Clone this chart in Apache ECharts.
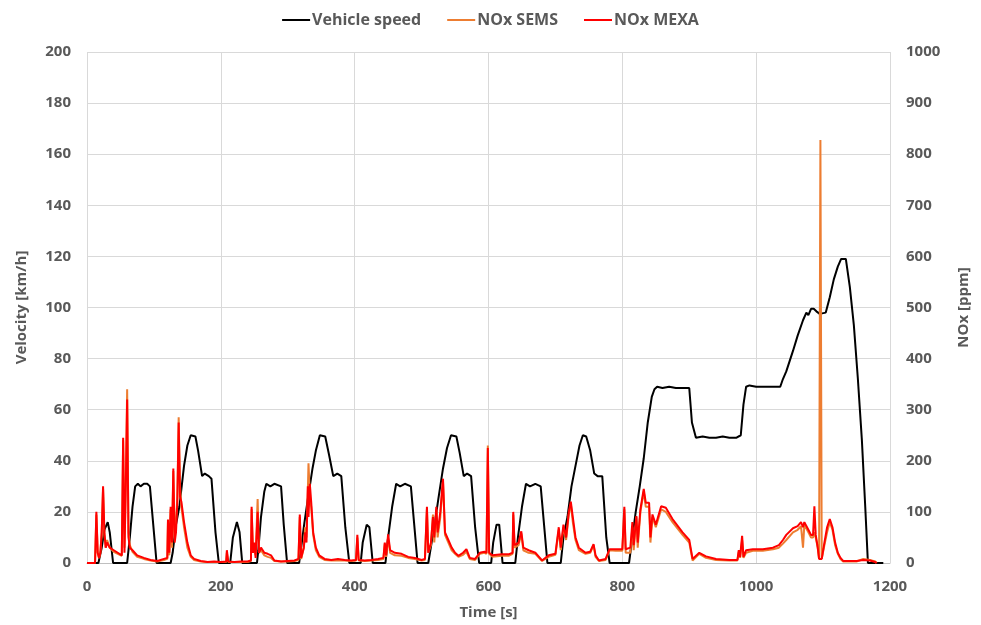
<!DOCTYPE html>
<html><head><meta charset="utf-8">
<script src="https://cdn.jsdelivr.net/npm/echarts@6/dist/echarts.min.js"></script>
<style>html,body{margin:0;padding:0;background:#fff}#c{width:981px;height:625px}</style>
</head><body><div id="c"></div>
<script>
// Vehicle speed [km/h]
const speedT = [0,17,22,26,31,34,39,60,64,68,72,76,80,85,90,94,100,104,125,128,133,138,145,150,155,162,166,172,176,182,186,192,197,214,218,224,228,232,254,256,260,265,268,274,280,290,294,299,317,321,325,330,337,342,348,356,362,368,374,380,386,392,409,412,418,422,427,446,450,456,462,468,475,484,489,494,510,515,520,525,532,538,544,552,557,563,568,574,580,586,604,607,612,616,621,640,644,650,656,662,670,678,683,688,708,712,718,724,730,736,741,746,752,758,763,770,776,781,810,815,820,826,832,838,844,848,852,860,870,880,890,900,904,910,920,930,940,950,960,970,977,981,985,990,1000,1010,1020,1030,1036,1040,1045,1050,1055,1062,1070,1075,1078,1082,1086,1090,1095,1104,1110,1116,1122,1127,1134,1140,1146,1152,1158,1163,1167,1190];
const speedV = [0,0,6,13,16,12,0,0,10,22,30,31,30,31,31,30,12,0,0,4,15,22,38,46,50,49.5,44,34,35,34,33,12,0,0,10,16,12,0,0,5,18,28,31,30,31,30,15,0,0,8,16,25,37,44,50,49.5,42,34,35,34,14,0,0,8,15,14,0,0,10,22,31,30,31,30,15,0,0,8,16,25,37,45,50,49.5,43,34,35,34,14,0,0,8,15,15,0,0,10,22,31,30,31,30,15,0,0,10,18,30,38,46,50,49.5,44,35,34,34,10,0,0,10,20,30,41,55,65,68,69,68.5,69,68.5,68.5,68.5,55,49,49.5,49,49,49.5,49,49,50,62,69,69.5,69,69,69,69,69,72,75,79,83,89,95,98,97,99.5,99.5,98.5,97.5,98,104,111,116,119,119,108,93,72,48,22,0,0];
// NOx [ppm]
const noxT = [0,12,14,16,18,20,22,24,26,28,30,34,40,46,52,54,56,58,60,62,64,68,75,85,95,105,115,120,121,123,125,127,129,131,133,135,137,139,141,145,150,155,160,170,180,190,200,208,209,211,220,230,240,245,246,248,250,252,255,257,260,265,270,275,280,290,300,310,316,318,320,324,326,328,330,331,333,335,338,342,347,355,365,375,385,395,402,404,406,415,425,435,443,445,447,450,453,460,470,480,490,500,505,508,510,514,517,519,522,524,528,532,535,540,545,550,555,562,567,572,580,587,594,597,599,601,606,620,630,636,637,639,645,649,652,660,670,680,690,700,705,708,712,716,720,723,726,730,735,745,752,757,760,765,775,781,790,800,803,805,812,815,817,821,823,827,832,835,840,842,845,850,858,865,875,890,900,905,915,925,940,960,972,974,976,979,981,985,995,1010,1025,1034,1040,1045,1055,1062,1067,1070,1072,1078,1082,1085,1087,1089,1092,1094,1096,1098,1102,1106,1110,1114,1118,1122,1126,1130,1150,1160,1170,1178,1180];
const noxMexa = [0,0,100,20,10,20,60,150,60,30,40,30,25,20,15,245,20,150,320,50,30,25,15,10,6,4,8,10,85,20,110,40,185,40,60,120,275,130,120,80,40,15,8,4,2,3,2,3,25,3,2,3,3,5,110,20,40,10,100,20,30,20,18,15,5,3,4,5,8,95,10,30,60,40,150,90,155,120,60,30,15,8,6,8,6,5,6,55,6,5,6,8,10,40,15,56,25,20,18,12,10,6,8,110,20,40,90,50,110,60,100,165,60,45,30,20,14,20,27,10,8,20,22,20,225,20,15,17,17,20,100,35,40,62,30,25,20,5,15,18,70,30,75,50,100,120,90,50,30,20,22,37,15,5,8,27,27,27,110,27,30,80,35,92,40,105,145,118,118,50,95,75,111,108,86,60,45,8,20,13,8,6,6,25,12,53,12,25,27,27,30,35,45,55,68,72,80,70,80,65,55,55,111,55,30,8,8,8,40,70,86,70,40,20,10,4,4,6,5,2,0];
const noxSems = [0,0,95,20,10,20,60,145,55,30,45,30,22,18,14,240,30,160,340,60,35,22,12,8,5,3,6,8,80,15,105,30,180,50,80,130,285,150,110,70,30,12,6,3,2,2,2,2,20,2,2,2,2,4,105,25,30,15,125,20,25,15,12,10,4,3,3,4,6,90,8,30,70,50,140,195,130,110,55,25,12,6,5,5,5,4,5,50,5,4,5,6,8,38,12,50,20,15,14,10,8,5,6,105,20,35,95,40,105,50,90,160,55,40,25,18,12,16,22,8,6,18,20,18,230,18,12,14,14,18,95,30,35,58,25,20,18,4,12,16,65,25,70,45,95,115,80,45,25,18,20,35,12,4,6,25,24,24,105,20,20,70,25,90,30,100,140,110,110,40,90,70,105,100,80,55,40,5,18,10,6,5,5,22,10,45,10,20,24,24,27,30,38,45,60,65,72,30,75,60,50,50,60,50,30,8,828,8,35,60,80,65,35,18,8,3,3,8,6,3,0];

const pair = (t, v) => t.map((x, i) => [x, v[i]]);
const txt = '#595959';
const font = '"Open Sans", "Liberation Sans", sans-serif';
const plain = v => String(v);

const chart = echarts.init(document.getElementById('c'), null, {renderer: 'canvas'});
chart.setOption({
  animation: false,
  backgroundColor: '#fff',
  textStyle: {fontFamily: font},
  legend: {
    top: 7, left: 'center', itemGap: 26, itemWidth: 28, itemHeight: 2,
    icon: 'rect',
    textStyle: {color: txt, fontSize: 16, fontWeight: 'bold', fontFamily: font, padding: [0, 0, 0, -3]},
    data: ['Vehicle speed', 'NOx SEMS', 'NOx MEXA']
  },
  grid: {left: 87, right: 91, top: 52, bottom: 61, containLabel: false},
  xAxis: {
    type: 'value', min: 0, max: 1200, interval: 200,
    name: 'Time [s]', nameLocation: 'middle', nameGap: 42,
    nameTextStyle: {color: txt, fontSize: 15, fontWeight: 'bold', fontFamily: font},
    axisLine: {show: true, lineStyle: {color: '#bfbfbf', width: 1}},
    axisTick: {show: false},
    axisLabel: {color: txt, fontSize: 15, fontWeight: 'bold', margin: 16, fontFamily: font, formatter: plain},
    splitLine: {show: true, lineStyle: {color: '#d9d9d9', width: 1}}
  },
  yAxis: [{
    type: 'value', min: 0, max: 200, interval: 20,
    name: 'Velocity [km/h]', nameLocation: 'middle', nameGap: 58, nameRotate: 90,
    nameTextStyle: {color: txt, fontSize: 15, fontWeight: 'bold', fontFamily: font},
    axisLine: {show: false}, axisTick: {show: false},
    axisLabel: {color: txt, fontSize: 15, fontWeight: 'bold', margin: 16, fontFamily: font, formatter: plain},
    splitLine: {show: true, lineStyle: {color: '#d9d9d9', width: 1}}
  }, {
    type: 'value', min: 0, max: 1000, interval: 100, position: 'right',
    name: 'NOx [ppm]', nameLocation: 'middle', nameGap: 66, nameRotate: 90,
    nameTextStyle: {color: txt, fontSize: 15, fontWeight: 'bold', fontFamily: font},
    axisLine: {show: false}, axisTick: {show: false},
    axisLabel: {color: txt, fontSize: 15, fontWeight: 'bold', margin: 16, fontFamily: font, formatter: plain},
    splitLine: {show: false}
  }],
  series: [{
    name: 'Vehicle speed', type: 'line', yAxisIndex: 0, showSymbol: false, symbol: 'none',
    data: pair(speedT, speedV), lineStyle: {color: '#000000', width: 2}, itemStyle: {color: '#000000'}, z: 2
  }, {
    name: 'NOx SEMS', type: 'line', yAxisIndex: 1, showSymbol: false, symbol: 'none',
    data: pair(noxT, noxSems), lineStyle: {color: '#ED7D31', width: 2}, itemStyle: {color: '#ED7D31'}, z: 3
  }, {
    name: 'NOx MEXA', type: 'line', yAxisIndex: 1, showSymbol: false, symbol: 'none',
    data: pair(noxT, noxMexa), lineStyle: {color: '#FF0000', width: 2}, itemStyle: {color: '#FF0000'}, z: 4
  }]
});
</script></body></html>
